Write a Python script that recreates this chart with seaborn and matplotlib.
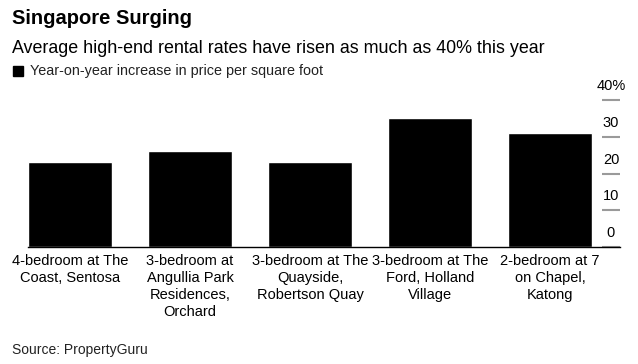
import matplotlib
matplotlib.use("Agg")
import matplotlib.pyplot as plt
from matplotlib.patches import Rectangle
import pandas as pd
import seaborn as sns

# chart data
categories = [
    "4-bedroom at The\nCoast, Sentosa",
    "3-bedroom at\nAngullia Park\nResidences,\nOrchard",
    "3-bedroom at The\nQuayside,\nRobertson Quay",
    "3-bedroom at The\nFord, Holland\nVillage",
    "2-bedroom at 7\non Chapel,\nKatong",
]
increase = [23.2, 26.1, 23.2, 35.1, 31.2]
y_ticks = [0, 10, 20, 30, 40]
y_tick_labels = ["0", "10", "20", "30", "40%"]

title = "Singapore Surging"
subtitle = "Average high-end rental rates have risen as much as 40% this year"
legend_label = "Year-on-year increase in price per square foot"
source = "Source: PropertyGuru"

df = pd.DataFrame({"category": categories, "increase": increase})

sns.set_theme(style="white")
plt.rcParams["font.family"] = ["Liberation Sans", "DejaVu Sans"]

W, H = 638, 364
fig = plt.figure(figsize=(W / 100, H / 100), dpi=100)
fig.patch.set_facecolor("white")

# axes placed in pixel terms of the reference
left, right, top, bottom = 28, 620, 100.3, 247
ax = fig.add_axes([left / W, 1 - bottom / H, (right - left) / W, (bottom - top) / H])

sns.barplot(data=df, x="category", y="increase", color="black",
            saturation=1, width=0.7, ax=ax)

ax.set_xlim(-0.35, 4.583)
ax.set_ylim(0, 40)
ax.set_xlabel("")
ax.set_ylabel("")

for side in ["top", "left", "right"]:
    ax.spines[side].set_visible(False)
ax.spines["bottom"].set_color("black")
ax.spines["bottom"].set_linewidth(1.0)

# x labels
ax.tick_params(axis="x", length=0, pad=5)
ax.set_xticks(range(len(categories)))
ax.set_xticklabels(categories, fontsize=10.5, linespacing=1.27, va="top",
                   color="black")

# right-hand gray tick marks with labels sitting above them
ax.set_yticks(y_ticks)
ax.yaxis.tick_right()
ax.tick_params(axis="y", direction="in", length=13, width=1.5,
               color="#9a9a9a", labelright=False, labelleft=False)
for v, lab in zip(y_ticks, y_tick_labels):
    ax.annotate(lab, xy=(1, v), xycoords=("axes fraction", "data"),
                xytext=(-6.5, 5), textcoords="offset points",
                ha="center", va="bottom", fontsize=10.5, color="black",
                annotation_clip=False)

# header text
fig.text(12 / W, 1 - 9 / H, title, fontsize=14.5, fontweight="bold",
         va="top", ha="left", color="black")
fig.text(12 / W, 1 - 40 / H, subtitle, fontsize=12.9, va="top", ha="left",
         color="black")
fig.patches.append(Rectangle((13 / W, 1 - 76 / H), 10 / W, 10 / H,
                             transform=fig.transFigure, color="black"))
fig.text(30 / W, 1 - 71 / H, legend_label, fontsize=10.4, va="center",
         ha="left", color="#222222")
fig.text(12 / W, 1 - 350 / H, source, fontsize=10, va="center", ha="left",
         color="#222222")

fig.savefig("out.png", dpi=100, facecolor="white")
